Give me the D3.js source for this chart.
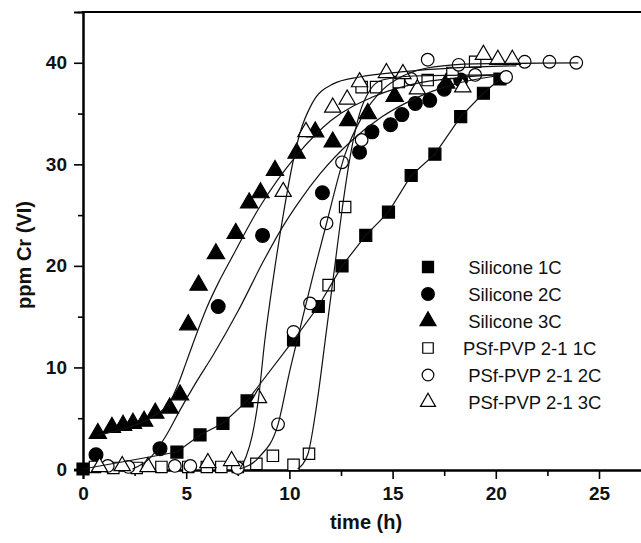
<!DOCTYPE html>
<html>
<head>
<meta charset="utf-8">
<script src="https://cdn.jsdelivr.net/npm/d3@7"></script>
<style>
  body { margin: 0; background: #fff; }
  svg text { font-family: "Liberation Sans", Arial, sans-serif; }
</style>
</head>
<body>
<svg id="chart" width="641" height="543"></svg>
<script>
/************
** data (time h, ppm Cr(VI))
*************/
var sil1C = [[0,0],[4.55,1.67],[5.67,3.35],[6.78,4.5],[7.95,6.7],[10.2,12.7],[11.4,16],[12.55,20],[13.7,23],
  [14.8,25.3],[15.9,28.9],[17.05,31],[18.3,34.7],[19.4,37],[20.2,38.4]];
var sil2C = [[0.63,1.4],[3.73,2.0],[6.55,16],[8.7,23],[11.6,27.2],[13.4,31.2],[14.0,33.2],[14.9,33.9],
  [15.45,34.9],[16.1,36],[16.8,36.3],[17.5,37.4],[18.3,38.3]];
var sil3C = [[0.72,3.5],[1.4,4.1],[1.94,4.3],[2.42,4.5],[2.96,4.7],[3.5,5.5],[4.2,6.0],[4.7,7.3],[5.1,14.2],
  [5.6,18.1],[6.44,21.2],[7.4,23.2],[8.05,26.2],[8.6,27.2],[9.3,29.4],[10.35,31.1],[11.25,33.2],[12.1,32.2],
  [12.85,34.3],[13.8,35.0],[15.1,36.7],[17.6,38.0]];
var psf1C = [[0.58,0.2],[1.47,0.1],[2.6,0.1],[3.8,0.2],[5.1,0.2],[6.0,0.2],[6.7,0.2],[7.5,0.2],[8.4,0.5],
  [9.2,1.3],[10.2,0.4],[10.95,1.5],[11.9,18.1],[12.7,25.8],[13.5,37.6],[14.2,37.6],[15.3,38.1],[16.7,38.3],
  [17.9,39.0],[19.0,40.1]];
var psf2C = [[1.2,0.3],[2.2,0.2],[4.45,0.3],[5.2,0.3],[7.5,0.1],[9.45,4.4],[10.2,13.5],[11.0,16.3],[11.8,24.2],
  [12.55,30.2],[13.5,32.4],[15.9,38.4],[16.7,40.3],[18.2,39.8],[19.0,38.8],[20.5,38.6],[21.4,40.1],[22.6,40.1],[23.9,40.0]];
var psf3C = [[0.8,0.2],[1.9,0.3],[3.15,0.2],[6.05,0.6],[7.2,0.8],[8.5,7.0],[9.7,27.3],[10.8,33.2],[12.1,35.6],
  [12.8,36.4],[13.4,38.1],[14.7,39.0],[15.5,38.9],[16.2,37.4],[18.4,37.6],[19.4,40.8],[20.1,40.3],[20.8,40.3]];

// fitted curves
var fitSil2C = [[2.4,0],[3.3,1.2],[4.0,3.2],[4.7,5.8],[5.5,8.6],[6.3,11.2],[7.5,15.5],[8.7,20.3],[9.6,23.6],
  [10.5,26.4],[11.5,29.1],[13,32.3],[14.5,34.7],[16,36.4],[18,37.9],[20,38.7]];
var fitSil3C = [[0.7,3.3],[1.5,3.7],[2.5,4.3],[3.5,5.3],[4.2,6.6],[4.6,8.3],[5.0,10.5],[5.5,13.3],[6.0,15.9],
  [6.6,18.5],[7.1,20.4],[8.5,25.6],[10.4,31.0],[12,34.3],[14,36.6],[16,37.9],[18,38.5],[20,38.8]];
var fitPsf1C = [[10.4,0],[10.9,1.5],[11.3,6],[11.8,13.7],[12.2,20],[12.55,25.5],[13.0,31.4],[13.4,35.0],
  [13.9,37.3],[14.5,38.3],[16,38.7],[20,38.8]];
var fitPsf2C = [[7.6,0],[8.5,1.1],[9.45,4.4],[10.0,9.5],[10.5,13.7],[11.2,19.5],[11.8,24.2],[12.7,31.0],
  [13.5,34.6],[14.5,37.3],[15.5,38.7],[17,39.6],[19,39.9],[24,40.0]];
var fitPsf3C = [[7.6,0],[7.9,1.2],[8.2,3.3],[8.5,6.9],[8.8,12.5],[9.2,18.5],[9.7,25],[10.2,30.5],[10.5,33],
  [11.1,36.0],[12.1,37.9],[13.4,38.6],[15.4,39.1],[18,39.5],[21,39.7]];

var xTicks = [0,5,10,15,20,25];
var yTicks = [0,10,20,30,40];
var legendNames = [" Silicone 1C"," Silicone 2C"," Silicone 3C","PSf-PVP 2-1 1C"," PSf-PVP 2-1 2C"," PSf-PVP 2-1 3C"];

/************
** setup
*************/
var svg = d3.select("#chart");
var x = d3.scaleLinear().domain([0, 27.5]).range([83, 650.6]);
var y = d3.scaleLinear().domain([-0.1, 45]).range([470, 12]);

var series = [
  {data: sil1C, shape: d3.symbolSquare, size: 144, fill: "#000"},
  {data: sil2C, shape: d3.symbolCircle, size: 150, fill: "#000"},
  {data: sil3C, shape: d3.symbolTriangle, size: 130, fill: "#000"},
  {data: psf1C, shape: d3.symbolSquare, size: 130, fill: "#fff"},
  {data: psf2C, shape: d3.symbolCircle, size: 125, fill: "#fff"},
  {data: psf3C, shape: d3.symbolTriangle, size: 115, fill: "#fff"}
];

/************
** axes
*************/
function bigTicks(axis, len) {
  return axis.tickSizeOuter(0).tickSize(len).tickPadding(5);
}
svg.append("g").attr("transform", "translate(83,0)")
  .call(d3.axisLeft(y).tickValues([5,15,25,35,45]).tickSize(5).tickFormat("").tickSizeOuter(0));
var yAxis = svg.append("g").attr("transform", "translate(83,0)")
  .call(bigTicks(d3.axisLeft(y).tickValues(yTicks).tickFormat(d3.format("d")), 9));
svg.append("g").attr("transform", "translate(0,470)")
  .call(d3.axisBottom(x).tickValues([2.5,7.5,12.5,17.5,22.5]).tickSize(6).tickFormat("").tickSizeOuter(0));
var xAxis = svg.append("g").attr("transform", "translate(0,470)")
  .call(bigTicks(d3.axisBottom(x).tickValues(xTicks).tickFormat(d3.format("d")), 9));

svg.selectAll(".domain").attr("stroke", "#000").attr("stroke-width", 2);
svg.selectAll(".tick line").attr("stroke", "#000").attr("stroke-width", 1.6);
svg.selectAll(".tick text").attr("fill", "#111")
  .style("font-size", "19px").style("font-weight", "bold");
yAxis.selectAll(".tick text").attr("dx", "-2");
xAxis.selectAll(".tick text").attr("dy", "0.85em");

// top frame
svg.append("line").attr("x1", 82).attr("x2", 641).attr("y1", 12).attr("y2", 12)
  .attr("stroke", "#000").attr("stroke-width", 2);

svg.append("text").attr("x", 366).attr("y", 529).attr("text-anchor", "middle").attr("fill", "#111")
  .style("font-size", "20px").style("font-weight", "bold").text("time (h)");
svg.append("text").attr("transform", "translate(31,255) rotate(-90)").attr("text-anchor", "middle").attr("fill", "#111")
  .style("font-size", "20px").style("font-weight", "bold").text("ppm Cr (VI)");

/************
** markers
*************/
series.forEach(function(s){
  svg.append("g").selectAll("path").data(s.data).enter().append("path")
    .attr("d", d3.symbol().type(s.shape).size(s.size))
    .attr("transform", function(d){ return "translate(" + x(d[0]) + "," + y(d[1]) + ")"; })
    .attr("fill", s.fill)
    .attr("stroke", "#000")
    .attr("stroke-width", 1.2);
});

/************
** fit lines
*************/
var line = d3.line().x(function(d){ return x(d[0]); }).y(function(d){ return y(d[1]); });
var smooth = d3.line().curve(d3.curveMonotoneX)
  .x(function(d){ return x(d[0]); }).y(function(d){ return y(d[1]); });

svg.append("path").attr("d", line(sil1C)).attr("fill", "none").attr("stroke", "#111").attr("stroke-width", 1.2);
[fitSil2C, fitSil3C, fitPsf1C, fitPsf2C, fitPsf3C].forEach(function(f){
  svg.append("path").attr("d", smooth(f)).attr("fill", "none").attr("stroke", "#111").attr("stroke-width", 1.2);
});

/************
** legend
*************/
var legend = svg.append("g");
series.forEach(function(s, i){
  var ly = 267 + i * 27;
  legend.append("path")
    .attr("d", d3.symbol().type(s.shape).size(s.size * 0.85))
    .attr("transform", "translate(428," + ly + ")")
    .attr("fill", s.fill).attr("stroke", "#000").attr("stroke-width", 1.2);
  legend.append("text")
    .attr("x", 463).attr("y", ly).attr("dy", "0.36em").attr("fill", "#111")
    .style("font-size", "18.5px").attr("xml:space", "preserve")
    .text(legendNames[i]);
});
</script>
</body>
</html>
